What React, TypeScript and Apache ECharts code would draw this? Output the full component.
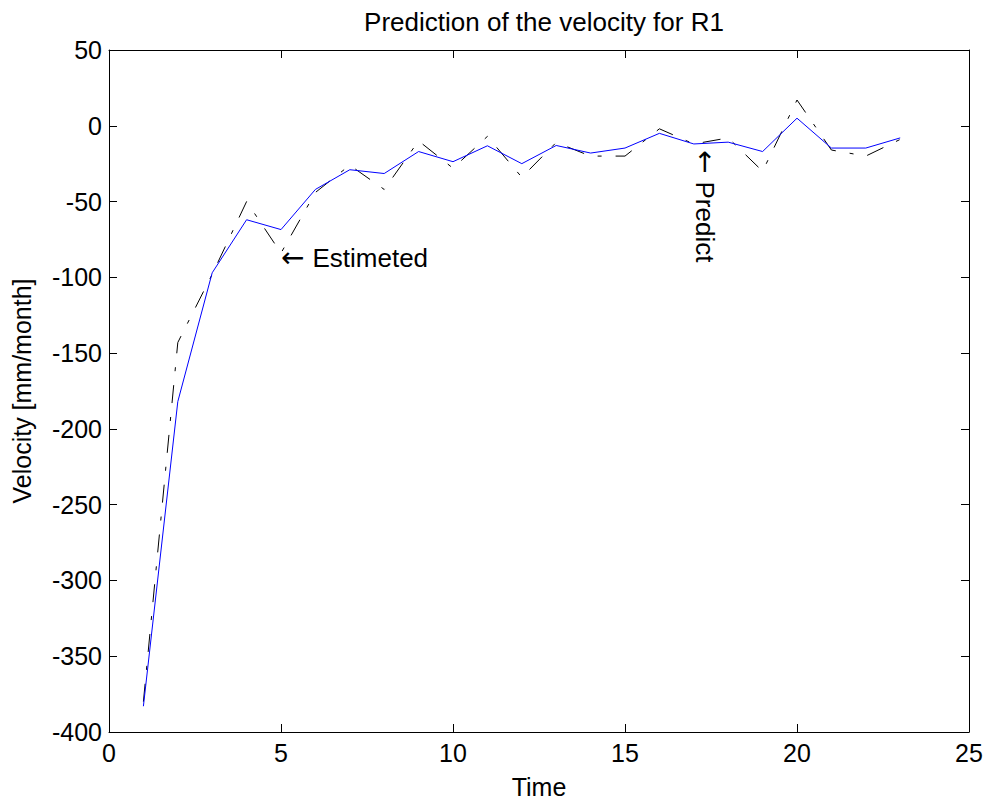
import React, { useEffect, useRef } from "react";
import * as echarts from "echarts";

const timeSteps = [1, 2, 3, 4, 5, 6, 7, 8, 9, 10, 11, 12, 13, 14, 15, 16, 17, 18, 19, 20, 21, 22, 23];
const estimated = [-380, -143, -98, -50, -84, -44, -26, -42, -10, -28, -7, -34, -11, -20, -20, -2, -12, -8, -30, 17, -16, -20, -9];
const predicted = [-383, -182, -97, -62, -68.5, -42, -29, -31.5, -17, -23.7, -13.2, -25, -13, -18, -14.7, -5, -12, -10.8, -17, 5, -14.7, -14.7, -8];

const xTicks = { min: 0, max: 25, interval: 5 };
const yTicks = { min: -400, max: 50, interval: 50 };

const titleText = "Prediction of the velocity for R1";
const xName = "Time";
const yName = "Velocity [mm/month]";
const estLabel = { text: "Estimeted", x: 5.0, y: -87 };
const predLabel = { text: "Predict", x: 17.33, y: -16 };

const FONT = "'Liberation Sans', Arial, sans-serif";
const FS = 25;

export default function App() {
  const ref = useRef<HTMLDivElement>(null);
  useEffect(() => {
    if (!ref.current) return;
    const chart = echarts.init(ref.current, null, { renderer: "svg" });
    const axisCommon = {
      type: "value" as const,
      axisLine: { show: true, onZero: false, lineStyle: { color: "#000", width: 1 } },
      axisTick: { show: true, inside: true, length: 8, lineStyle: { color: "#000", width: 1 } },
      splitLine: { show: false },
    };
    const option: any = {
      animation: false,
      backgroundColor: "#fff",
      textStyle: { fontFamily: FONT },
      title: {
        text: titleText,
        left: 539,
        textAlign: "center",
        top: 4,
        textStyle: { fontFamily: FONT, fontSize: 26, fontWeight: "normal", color: "#000" },
      },
      grid: { left: 109, right: 26, top: 50, bottom: 71, containLabel: false },
      xAxis: [
        {
          ...axisCommon,
          ...xTicks,
          position: "bottom",
          name: xName,
          nameLocation: "middle",
          nameGap: 42,
          nameTextStyle: { fontFamily: FONT, fontSize: FS, color: "#000" },
          axisLabel: { show: true, margin: 8, fontFamily: FONT, fontSize: FS, color: "#000" },
        },
        {
          ...axisCommon,
          ...xTicks,
          position: "top",
          axisLabel: { show: false },
        },
      ],
      yAxis: [
        {
          ...axisCommon,
          ...yTicks,
          position: "left",
          name: yName,
          nameLocation: "middle",
          nameGap: 75,
          nameRotate: 90,
          nameTextStyle: { fontFamily: FONT, fontSize: FS, color: "#000" },
          axisLabel: { show: true, margin: 7, fontFamily: FONT, fontSize: FS, color: "#000" },
        },
        {
          ...axisCommon,
          ...yTicks,
          position: "right",
          axisLabel: { show: false },
        },
      ],
      series: [
        {
          name: "Estimated",
          type: "line",
          xAxisIndex: 0,
          yAxisIndex: 0,
          data: timeSteps.map((t, i) => [t, estimated[i]]),
          symbol: "none",
          lineStyle: { color: "#000", width: 1, type: [18, 14, 4, 14] },
          z: 2,
        },
        {
          name: "Predicted",
          type: "line",
          xAxisIndex: 0,
          yAxisIndex: 0,
          data: timeSteps.map((t, i) => [t, predicted[i]]),
          symbol: "none",
          lineStyle: { color: "#0000ff", width: 1, type: "solid" },
          z: 3,
        },
      ],
    };
    chart.setOption(option);
    const pe = chart.convertToPixel({ gridIndex: 0 }, [estLabel.x, estLabel.y]) as number[];
    const pp = chart.convertToPixel({ gridIndex: 0 }, [predLabel.x, predLabel.y]) as number[];
    const rich = {
      a: { fontFamily: "'DejaVu Sans', sans-serif", fontSize: 28, fill: "#000", color: "#000" },
      b: { fontFamily: FONT, fontSize: 26, fill: "#000", color: "#000", padding: [0, 0, 0, 8] },
    };
    chart.setOption({
      graphic: [
        {
          type: "text",
          x: pe[0],
          y: pe[1],
          style: {
            text: "{a|\u2190}{b|" + estLabel.text + "}",
            rich,
            fontFamily: FONT,
            fontSize: FS,
            fill: "#000",
            textAlign: "left",
            textVerticalAlign: "middle",
          },
        },
        {
          type: "text",
          x: pp[0],
          y: pp[1],
          rotation: -Math.PI / 2,
          style: {
            text: "{a|\u2190}{b|" + predLabel.text + "}",
            rich,
            fontFamily: FONT,
            fontSize: FS,
            fill: "#000",
            textAlign: "left",
            textVerticalAlign: "middle",
          },
        },
      ],
    });
    return () => chart.dispose();
  }, []);
  return (
    <div
      ref={ref}
      style={{ position: "fixed", left: 0, top: 0, width: 995, height: 804, background: "#fff" }}
    />
  );
}
